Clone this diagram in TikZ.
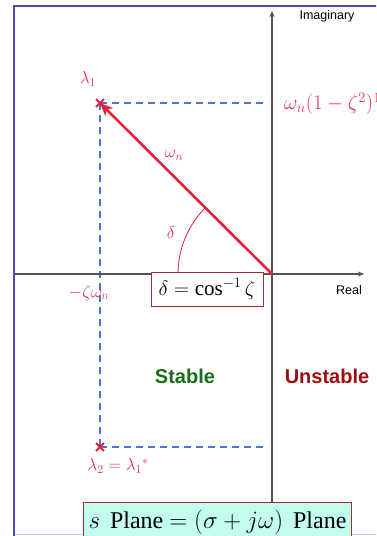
\documentclass[tikz,border=0pt]{standalone}
\usepackage{fontspec}
\setmainfont{Liberation Serif}
\newfontfamily\lsans{Liberation Sans}
\usetikzlibrary{arrows.meta}
\definecolor{frameblue}{HTML}{4A4AB8}
\definecolor{axisgrey}{HTML}{555555}
\definecolor{dashblue}{HTML}{4A72D8}
\definecolor{polered}{HTML}{E8203A}
\definecolor{labred}{HTML}{E8305A}
\definecolor{stabgreen}{HTML}{1A6E1A}
\definecolor{unstred}{HTML}{9A0F0F}
\definecolor{boxred}{HTML}{A03030}
\definecolor{mint}{HTML}{C2FDF0}
\tikzset{
  axis/.style={axisgrey, line width=1.8pt, -{Stealth[length=6pt,width=5pt]}},
  guide/.style={dashblue, line width=1.1pt, dash pattern=on 7pt off 5pt},
  pole/.style={polered, line width=1.8pt},
  redlab/.style={labred, inner sep=0pt, font=\fontsize{18}{20}\selectfont},
  axlab/.style={inner sep=0pt, font=\lsans\fontsize{12.5}{14}\selectfont},
  biglab/.style={inner sep=0pt, font=\lsans\bfseries\fontsize{20}{22}\selectfont},
  fbox/.style={draw=boxred, line width=1pt, inner sep=3pt}
}
\begin{document}
\begin{tikzpicture}[x=1pt,y=-1pt]
\useasboundingbox (0,0) rectangle (376,536);
\clip (0,0) rectangle (376,536);
\fill[white] (0,0) rectangle (376,536);
\draw[frameblue!30, line width=1pt] (14,534.5) -- (390,534.5);
\draw[frameblue, line width=2pt] (14,536) -- (14,6) -- (390,6);
% points
\coordinate (O) at (272,274);
\coordinate (L1) at (100,103);
\coordinate (L2) at (100,447);
\coordinate (H1) at (268,103);
\coordinate (H2) at (268,447);
\coordinate (AxB) at (272,536);
\coordinate (AxT) at (272,11);
\coordinate (AxL) at (14,274);
\coordinate (AxR) at (364,274);
% guides
\draw[guide] (L1) -- (H1);
\draw[guide] (L2) -- (H2);
\draw[guide] (L1) -- (L2);
% axes
\draw[axis] (AxB) -- (AxT);
\draw[axis] (AxL) -- (AxR);
% vector
\draw[polered, line width=2.6pt, -{Stealth[length=13pt,width=11pt]}] (O) -- (L1);
\draw[polered, line width=0.8pt] (178,274) arc[start angle=180, end angle=225, radius=94];
% poles
\draw[pole] (96,99) -- (104,107) (96,107) -- (104,99);
\draw[pole] (96,443) -- (104,451) (96,451) -- (104,443);
% labels
\node[axlab] (im) at (327,16) {Imaginary};
\node[axlab] (re) at (349,290) {Real};
\node[redlab] (l1) at (88,79) {$\lambda_1$};
\node[redlab, anchor=west, font=\fontsize{20}{22}\selectfont] (wd) at (284,103) {$\omega_n(1-\zeta^2)^{1/2}$};
\node[redlab] (wn) at (174,155) {$\omega_n$};
\node[redlab] (dl) at (171,232) {$\delta$};
\node[redlab] (zw) at (89,293) {$-\zeta\omega_n$};
\node[redlab] (l2) at (118,466) {$\lambda_2=\lambda_1{}^{*}$};
\node[fbox, fill=white, minimum width=112pt, minimum height=34pt, font=\fontsize{21}{23}\selectfont] (form) at (207,289) {$\delta=\cos^{-1}\zeta$};
\node[biglab, stabgreen] (st) at (185,376) {Stable};
\node[biglab, unstred] (un) at (327,376) {Unstable};
\node[fbox, fill=mint, anchor=north west, minimum width=268pt, minimum height=40pt, inner xsep=0pt, inner ysep=4pt, font=\fontsize{24}{26}\selectfont] (sp) at (83,502) {$s$\, Plane $=\bigl(\sigma+j\omega\bigr)$\, Plane};
\end{tikzpicture}
\end{document}
